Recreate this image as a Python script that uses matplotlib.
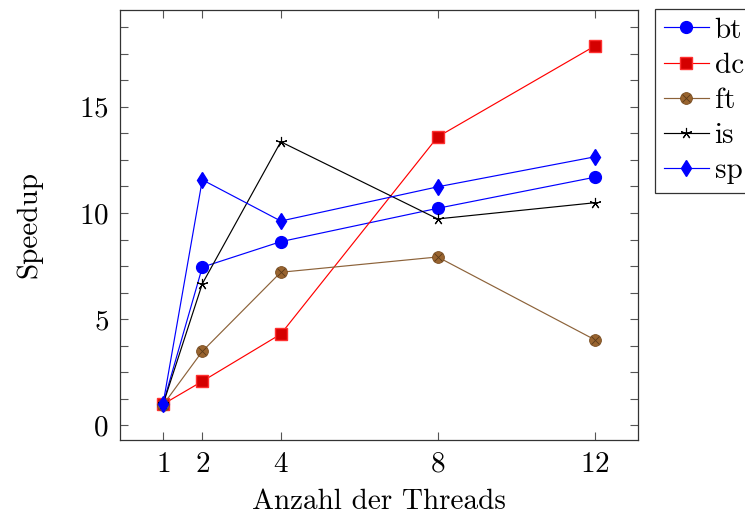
import matplotlib.pyplot as plt
from matplotlib.ticker import MultipleLocator
from matplotlib.legend_handler import HandlerTuple

plt.rcParams['font.family'] = 'serif'
plt.rcParams['font.serif'] = ['cmr10']
plt.rcParams['mathtext.fontset'] = 'cm'
plt.rcParams['axes.formatter.use_mathtext'] = True

# Speedup je Benchmark über die Thread-Anzahl
threads = [1, 2, 4, 8, 12]
bt = [1.02, 7.45, 8.65, 10.22, 11.68]
dc = [1.0, 2.08, 4.30, 13.58, 17.85]
ft = [0.97, 3.49, 7.21, 7.93, 4.04]
is_ = [1.0, 6.67, 13.35, 9.72, 10.48]
sp = [1.03, 11.56, 9.62, 11.23, 12.64]

fig = plt.figure(figsize=(7.45, 5.16), dpi=100)
ax = fig.add_axes([0.161, 0.147, 0.695, 0.834])

lw = 0.85
h_bt, = ax.plot(threads, bt, color='blue', lw=lw, marker='o', ms=8.5,
                mfc='blue', mec='blue')
h_dc, = ax.plot(threads, dc, color='red', lw=lw, marker='s', ms=8,
                mfc='#d40000', mec='#ff3030', mew=1)
# ft: gefuellter Kreis mit eingeschriebenem Kreuz (otimes)
h_ft, = ax.plot(threads, ft, color='#8c6239', lw=lw, marker='o', ms=8.5,
                mfc='#99642f', mec='#7a4e22', mew=0.6)
h_ftx, = ax.plot(threads, ft, color='none', lw=0, marker='x', ms=5.5,
                 mec='#5a3a1a', mew=0.6)
h_is, = ax.plot(threads, is_, color='black', lw=lw, marker=(5, 2, 0), ms=8,
                mec='black', mew=0.8)
h_sp, = ax.plot(threads, sp, color='blue', lw=lw, marker='d', ms=8,
                mfc='blue', mec='blue')

ax.set_xlim(-0.1, 13.1)
ax.set_ylim(-0.69, 19.56)
ax.set_xticks(threads)
ax.yaxis.set_major_locator(MultipleLocator(5))
ax.yaxis.set_minor_locator(MultipleLocator(1.25))
ax.tick_params(which='both', direction='in', top=True, right=True,
               length=6, width=0.8, color='#555555', labelsize=21, pad=8)
for s in ax.spines.values():
    s.set_linewidth(0.9)
    s.set_color('#333333')

ax.set_xlabel('Anzahl der Threads', fontsize=21, labelpad=8)
ax.set_ylabel('Speedup', fontsize=21, labelpad=26)

leg = ax.legend([h_bt, h_dc, (h_ft, h_ftx), h_is, h_sp],
                ['bt', 'dc', 'ft', 'is', 'sp'],
                handler_map={tuple: HandlerTuple(ndivide=1)},
                loc='upper left', bbox_to_anchor=(1.033, 1.003), fontsize=21,
                frameon=True, fancybox=False, edgecolor='black',
                handlelength=1.55, handletextpad=0.2, borderpad=0.3,
                labelspacing=0.3, borderaxespad=0)
leg.get_frame().set_linewidth(0.9)

fig.savefig('out.png', dpi=100)
